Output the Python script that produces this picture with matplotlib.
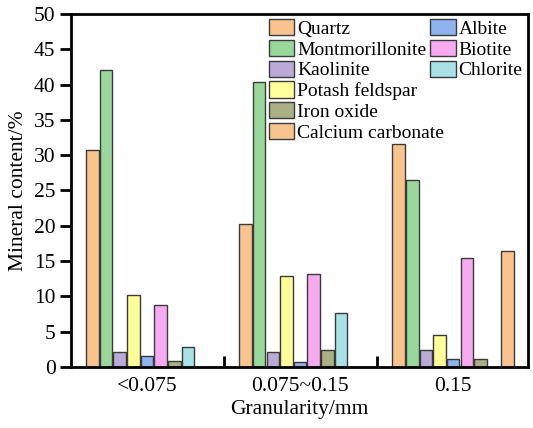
import matplotlib
matplotlib.use('Agg')
import matplotlib.pyplot as plt
import numpy as np

plt.rcParams['font.family'] = ['Liberation Serif', 'DejaVu Serif']

# categories on x axis
grupos = ['<0.075', '0.075~0.15', '0.15']

# minerals in the order the bars are drawn inside each group
minerales = ['Quartz', 'Montmorillonite', 'Kaolinite', 'Potash feldspar', 'Albite',
             'Biotite', 'Iron oxide', 'Chlorite', 'Calcium carbonate']
colores = ['#F9C38E', '#98D89B', '#BBAAD8', '#FFFF99', '#8EB4F0',
           '#F7AAF0', '#AAAF85', '#A8E2E6', '#F9C38E']

quartz = [30.8, 20.3, 31.6]
montmorillonite = [42.1, 40.3, 26.5]
kaolinite = [2.1, 2.1, 2.4]
potash = [10.2, 12.9, 4.6]
albite = [1.6, 0.75, 1.2]
biotite = [8.8, 13.2, 15.4]
iron_oxide = [0.9, 2.4, 1.2]
chlorite = [2.8, 7.6, 0]
calcium = [0, 0, 16.4]

valores = [quartz, montmorillonite, kaolinite, potash, albite,
           biotite, iron_oxide, chlorite, calcium]

fig = plt.figure(figsize=(5.33, 4.28), dpi=100)
ax = fig.add_axes([0.133, 0.1425, 0.858, 0.825])

x = np.arange(len(grupos))
paso = 0.089
ancho = 0.082
barras = {}
for i, (nombre, vals) in enumerate(zip(minerales, valores)):
    pos = x + (i - 4) * paso
    vals = np.array(vals)
    mask = vals > 0
    barras[nombre] = ax.bar(pos[mask], vals[mask], ancho, color=colores[i],
                            edgecolor='#3a3a3a', linewidth=1.0, label=nombre)

ax.set_xlim(-0.497, 2.49)
ax.set_ylim(0, 50)
ax.set_yticks(np.arange(0, 51, 5))
ax.set_xticks(x)
ax.set_xticklabels(grupos)
ax.set_xticks([0.5, 1.5], minor=True)
ax.tick_params(axis='x', which='major', length=0, labelsize=15.5, pad=7)
ax.tick_params(axis='x', which='minor', direction='in', length=8, width=2)
ax.tick_params(axis='y', direction='out', length=8, width=2, labelsize=15.5, pad=3)
for s in ax.spines.values():
    s.set_linewidth(2)

ax.set_xlabel('Granularity/mm', fontsize=15.5, labelpad=3)
ax.set_ylabel('Mineral content/%', fontsize=15.5, labelpad=4)

# legend in two blocks: 6 entries then 3 entries
col1 = ['Quartz', 'Montmorillonite', 'Kaolinite', 'Potash feldspar', 'Iron oxide',
        'Calcium carbonate']
col2 = ['Albite', 'Biotite', 'Chlorite']
opts = dict(frameon=False, fontsize=14, loc='upper left', handlelength=1.3,
            handleheight=0.9, handletextpad=0.15, labelspacing=0.1,
            borderaxespad=0, borderpad=0)
leg1 = ax.legend([barras[n] for n in col1], col1,
                 bbox_to_anchor=(0.433, 0.985), **opts)
ax.add_artist(leg1)
ax.legend([barras[n] for n in col2], col2,
          bbox_to_anchor=(0.786, 0.985), **opts)

plt.savefig('out.png', dpi=100)
